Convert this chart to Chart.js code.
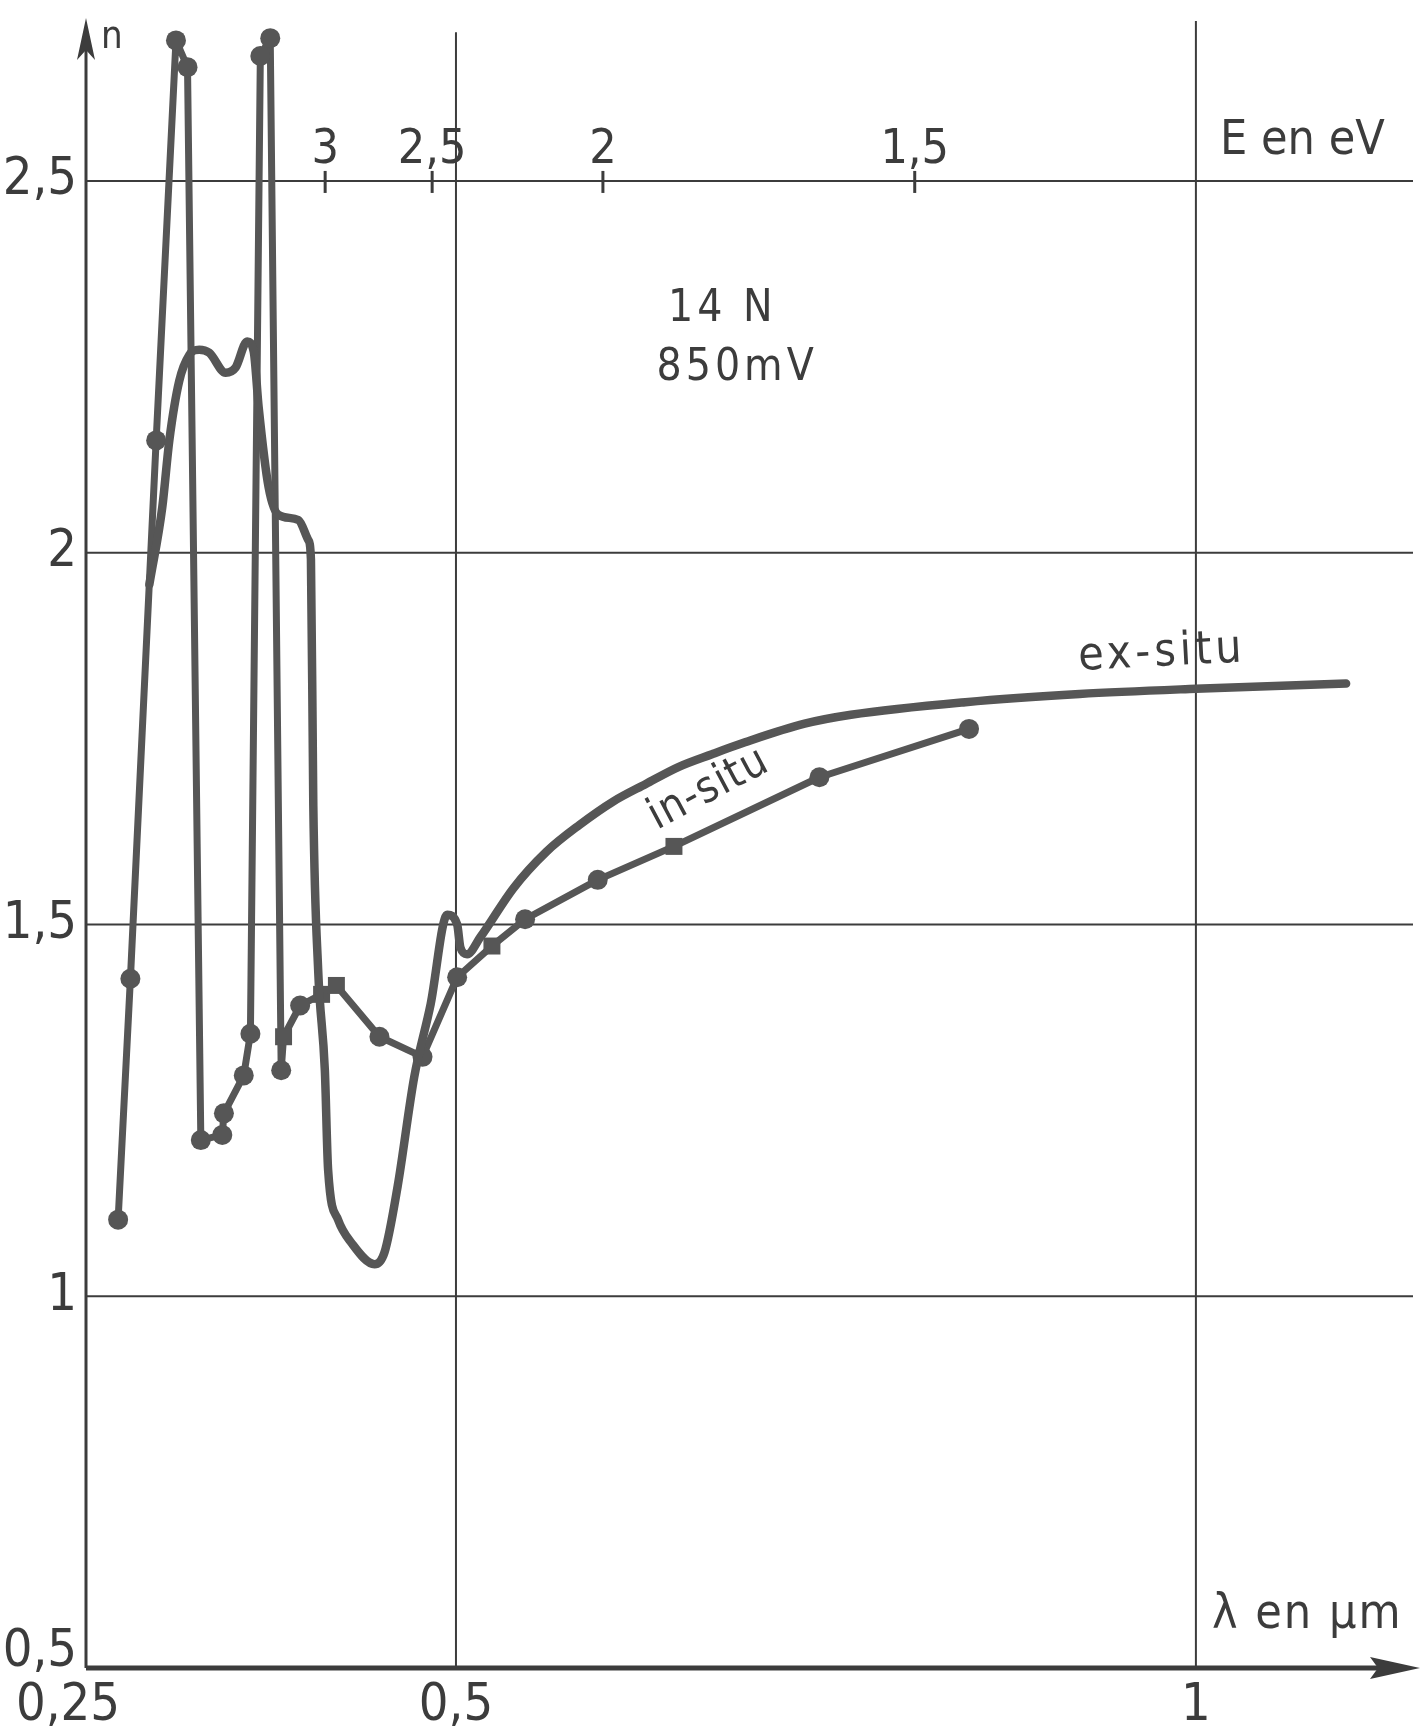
<!DOCTYPE html>
<html lang="fr">
<head>
<meta charset="UTF-8">
<title>Indice n - 14 N 850 mV</title>
<script src="https://cdn.jsdelivr.net/npm/chart.js@4.4.1/dist/chart.umd.min.js"></script>
<style>
  html, body { margin: 0; padding: 0; background: #fff; }
  canvas { display: block; }
</style>
</head>
<body>
<canvas id="graphe" width="1423" height="1733"></canvas>
<script>
// courbe in-situ (points de mesure), lambda en µm
const lambdaInSitu = [0.2717, 0.2800, 0.2974, 0.3108, 0.3186, 0.3276, 0.3421, 0.3432, 0.3566, 0.3611,
                      0.3678, 0.3745, 0.3819, 0.3835, 0.3947, 0.4092, 0.4192, 0.4483, 0.4774, 0.5008,
                      0.5243, 0.5467, 0.5958, 0.6473, 0.7456, 0.8467];
const nInSitu = [1.103, 1.427, 2.151, 2.689, 2.653, 1.210, 1.217, 1.246, 1.297, 1.353,
                 2.668, 2.692, 1.304, 1.349, 1.391, 1.406, 1.418, 1.349, 1.322, 1.429,
                 1.471, 1.507, 1.560, 1.605, 1.698, 1.763];

// courbe ex-situ (trait continu)
const lambdaExSitu = [0.2928, 0.3016, 0.3063, 0.3130, 0.3198, 0.3265, 0.3332, 0.3444, 0.3511, 0.3589,
                      0.3633, 0.3667, 0.3734, 0.3800, 0.3935, 0.4002, 0.4020, 0.4036, 0.4069, 0.4114,
                      0.4136, 0.4203, 0.4293, 0.4450, 0.4517, 0.4606, 0.4718, 0.4829, 0.4941, 0.5008,
                      0.5030, 0.5075, 0.5165, 0.5389, 0.5612, 0.5835, 0.6059, 0.6283, 0.6506, 0.6730,
                      0.6953, 0.7356, 0.7669, 0.8442, 0.9214, 1.0000, 1.1015];
const nExSitu = [1.957, 2.062, 2.151, 2.231, 2.266, 2.273, 2.269, 2.242, 2.249, 2.284,
                 2.271, 2.195, 2.088, 2.051, 2.044, 2.017, 1.991, 1.660, 1.438, 1.304,
                 1.170, 1.103, 1.072, 1.043, 1.059, 1.148, 1.295, 1.393, 1.513, 1.500,
                 1.469, 1.460, 1.483, 1.549, 1.598, 1.634, 1.665, 1.689, 1.712, 1.729,
                 1.745, 1.770, 1.782, 1.799, 1.810, 1.817, 1.824];

// axes
const ticksLambda = [0.25, 0.5, 1];
const labelsLambda = ['0,25', '0,5', '1'];
const ticksN = [0.5, 1, 1.5, 2, 2.5];
const labelsN = ['0,5', '1', '1,5', '2', '2,5'];
// graduation en énergie portée sur la ligne n = 2,5 (positions en lambda)
const ticksE = [0.4116, 0.4839, 0.5993, 0.8100];
const labelsE = ['3', '2,5', '2', '1,5'];

const gris = 'rgb(86,86,86)';
const encre = 'rgb(60,60,60)';
const police = "'DejaVu Sans Condensed', 'Liberation Sans Narrow', 'DejaVu Sans', sans-serif";
const carres = [13, 15, 16, 20, 23];   // points dessinés en petit rectangle

const pointsDe = (xs, ys) => xs.map((v, i) => ({ x: v, y: ys[i] }));

const decor = {
   id: 'decor',
   beforeDatasetsDraw(chart) {
      const { ctx, chartArea: ca, scales: { x, y } } = chart;
      const x0 = x.getPixelForValue(0.25);
      const yb = y.getPixelForValue(0.5);
      ctx.save();
      ctx.strokeStyle = encre;
      ctx.fillStyle = encre;

      // quadrillage
      ctx.lineWidth = 2;
      ticksN.slice(1).forEach(v => {
         const py = y.getPixelForValue(v);
         ctx.beginPath(); ctx.moveTo(x0, py); ctx.lineTo(ca.right, py); ctx.stroke();
      });
      [[0.5, 2.70], [1, 2.715]].forEach(([v, haut]) => {
         const px = x.getPixelForValue(v);
         ctx.beginPath(); ctx.moveTo(px, y.getPixelForValue(haut)); ctx.lineTo(px, yb); ctx.stroke();
      });

      // axe n avec flèche
      ctx.lineWidth = 3;
      ctx.beginPath(); ctx.moveTo(x0, yb); ctx.lineTo(x0, 45); ctx.stroke();
      ctx.beginPath();
      ctx.moveTo(x0, 18); ctx.lineTo(x0 - 9, 60); ctx.lineTo(x0, 50); ctx.lineTo(x0 + 9, 60);
      ctx.closePath(); ctx.fill();

      // axe lambda avec flèche
      ctx.lineWidth = 5;
      ctx.beginPath(); ctx.moveTo(x0, yb); ctx.lineTo(1385, yb); ctx.stroke();
      ctx.beginPath();
      ctx.moveTo(1420, yb); ctx.lineTo(1370, yb - 11); ctx.lineTo(1378, yb); ctx.lineTo(1370, yb + 11);
      ctx.closePath(); ctx.fill();

      // graduations E
      const pE = y.getPixelForValue(2.5);
      ctx.lineWidth = 3;
      ticksE.forEach(v => {
         const px = x.getPixelForValue(v);
         ctx.beginPath(); ctx.moveTo(px, pE - 10); ctx.lineTo(px, pE + 12); ctx.stroke();
      });
      ctx.restore();
   },
   afterDraw(chart) {
      const { ctx, scales: { x, y } } = chart;
      const x0 = x.getPixelForValue(0.25);
      const yb = y.getPixelForValue(0.5);
      ctx.save();
      ctx.fillStyle = encre;
      ctx.font = '52px ' + police;

      // libellés n
      ctx.textAlign = 'right';
      ctx.textBaseline = 'middle';
      ticksN.forEach((v, i) => {
         const dy = i === 0 ? -16 : 0;
         ctx.fillText(labelsN[i], x0 - 9, y.getPixelForValue(v) + dy);
      });

      // libellés lambda
      ctx.textAlign = 'center';
      ctx.textBaseline = 'top';
      ticksLambda.forEach((v, i) => {
         const dx = i === 0 ? -18 : 0;
         ctx.fillText(labelsLambda[i], x.getPixelForValue(v) + dx, yb + 12);
      });

      // libellés E
      ctx.font = '48px ' + police;
      ctx.textBaseline = 'alphabetic';
      const pE = y.getPixelForValue(2.5);
      ticksE.forEach((v, i) => {
         ctx.fillText(labelsE[i], x.getPixelForValue(v), pE - 18);
      });

      // titres d'axes
      ctx.textAlign = 'left';
      ctx.fillText('E en eV', 1220, 154);
      ctx.letterSpacing = '2px';
      ctx.fillText('\u03bb en \u00b5m', 1212, 1628);
      ctx.letterSpacing = '0px';
      ctx.font = '38px ' + police;
      ctx.fillText('n', 101, 48);

      // annotations
      ctx.font = '44px ' + police;
      ctx.textAlign = 'center';
      ctx.letterSpacing = '4px';
      ctx.fillText('14 N', x.getPixelForValue(0.680), y.getPixelForValue(2.312));
      ctx.fillText('850mV', x.getPixelForValue(0.6900), y.getPixelForValue(2.232));

      ctx.font = '46px ' + police;
      ctx.letterSpacing = '4px';
      ctx.translate(x.getPixelForValue(0.9775), y.getPixelForValue(1.848));
      ctx.rotate(-3 * Math.PI / 180);
      ctx.fillText('ex-situ', 0, 0);
      ctx.setTransform(1, 0, 0, 1, 0, 0);

      ctx.font = '44px ' + police;
      ctx.letterSpacing = '1px';
      ctx.translate(x.getPixelForValue(0.6745), y.getPixelForValue(1.668));
      ctx.rotate(-28 * Math.PI / 180);
      ctx.fillText('in-situ', 0, 0);
      ctx.restore();
   }
};

new Chart(document.getElementById('graphe'), {
   type: 'scatter',
   data: {
      datasets: [
         {
            label: 'ex-situ',
            data: pointsDe(lambdaExSitu, nExSitu),
            showLine: true,
            borderColor: gris,
            borderWidth: 8.5,
            pointRadius: 0,
            cubicInterpolationMode: 'monotone',
            borderCapStyle: 'round',
            borderJoinStyle: 'round'
         },
         {
            label: 'in-situ',
            data: pointsDe(lambdaInSitu, nInSitu),
            showLine: true,
            borderColor: gris,
            backgroundColor: gris,
            borderWidth: 7,
            tension: 0,
            borderJoinStyle: 'round',
            pointRadius: ctx => carres.includes(ctx.dataIndex) ? 12 : 10,
            pointStyle: ctx => carres.includes(ctx.dataIndex) ? 'rect' : 'circle',
            pointBorderWidth: 0
         }
      ]
   },
   options: {
      responsive: false,
      animation: false,
      devicePixelRatio: 1,
      layout: { padding: { left: 86, right: 0, top: 0, bottom: 65 } },
      scales: {
         x: { type: 'linear', min: 0.25, max: 1.1467, display: false },
         y: { type: 'linear', min: 0.5, max: 2.7299, display: false }
      },
      plugins: {
         legend: { display: false },
         tooltip: { enabled: false }
      }
   },
   plugins: [decor]
});
</script>
</body>
</html>
